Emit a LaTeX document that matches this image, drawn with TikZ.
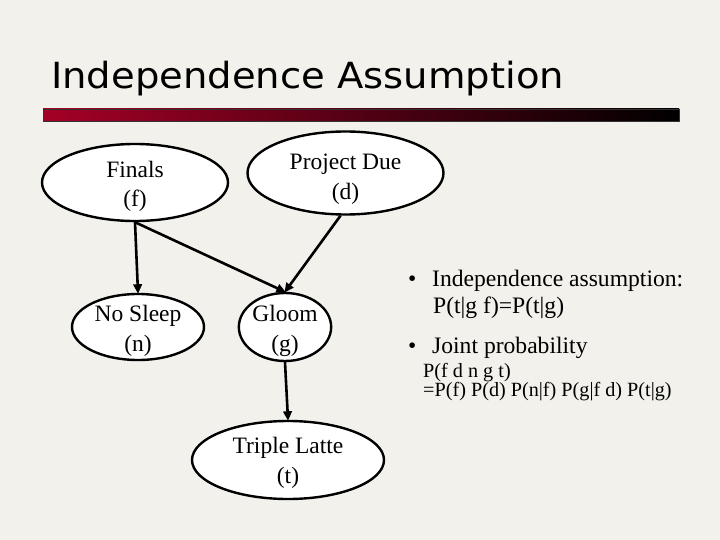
\documentclass[tikz,border=0pt]{standalone}
\usepackage{fontspec}
\usepackage{graphicx}
\setmainfont{Liberation Serif}
\newfontfamily\titlefont{DejaVu Sans}
\usetikzlibrary{shapes.geometric,arrows.meta}
\definecolor{bgcol}{RGB}{242,241,236}
\definecolor{barred}{RGB}{165,0,38}
\newcommand{\ntxt}[3]{\raisebox{#1}[0pt][0pt]{\begin{tabular}[t]{@{}c@{}}#2\\#3\end{tabular}}}
\tikzset{
  bnode/.style={ellipse, draw=black, line width=2.4pt, fill=white, inner sep=0pt,
    font=\fontsize{23.5}{30}\selectfont},
  edge/.style={line width=2.6pt, -{Triangle[length=9.5pt,width=8.5pt]}, shorten >=-1pt},
  bodytxt/.style={anchor=base west, inner sep=0pt, font=\fontsize{23.6}{27}\selectfont},
  smalltxt/.style={anchor=base west, inner sep=0pt, font=\fontsize{20.2}{23}\selectfont},
}
\begin{document}
\begin{tikzpicture}[x=1pt,y=-1pt]
\fill[bgcol] (0,0) rectangle (720,540);
\useasboundingbox (0,0) rectangle (720,540);
% title
\node[anchor=base west, inner sep=0pt, font=\titlefont\fontsize{36}{40}\selectfont] (title) at (51,89) {\scalebox{1.07}[1]{Independence Assumption}};
\shade[left color=barred, right color=black] (43,109) rectangle (679,121);
\draw[line width=0.6pt, black!80] (43,109) rectangle (679,121);
% nodes
\node[bnode, minimum width=186pt, minimum height=77pt] (f) at (135,182.5) {\ntxt{5.5pt}{Finals}{(f)}};
\node[bnode, minimum width=196pt, minimum height=83pt] (d) at (345.5,173) {\ntxt{3pt}{Project Due}{(d)}};
\node[bnode, minimum width=132pt, minimum height=66pt] (n) at (138,327) {\ntxt{6pt}{No Sleep}{(n)}};
\node[bnode, minimum width=90pt, minimum height=68pt] (g) at (285,327) {\ntxt{6pt}{Gloom}{(g)}};
\node[bnode, minimum width=192pt, minimum height=78pt] (t) at (288,460) {\ntxt{7pt}{Triple Latte}{(t)}};
% edges
\draw[edge] (f.south) -- (n.north);
\draw[edge] (f.south) -- (g.north);
\draw[edge] (d.south) ++(-5,0) coordinate (ds) (ds) -- (g.north);
\draw[edge] (g.south) -- (t.north);
% text
\node[bodytxt] (b1) at (408,286) {•};
\node[bodytxt] (l1) at (432,286) {Independence assumption:};
\node[bodytxt] (l2) at (433,313) {P(t|g f)=P(t|g)};
\node[bodytxt] (b2) at (408,353) {•};
\node[bodytxt] (l3) at (432,353) {Joint probability};
\node[smalltxt] (l4) at (423,377) {P(f d n g t)};
\node[smalltxt] (l5) at (423,396) {=P(f) P(d) P(n|f) P(g|f d) P(t|g)};
\end{tikzpicture}
\end{document}
